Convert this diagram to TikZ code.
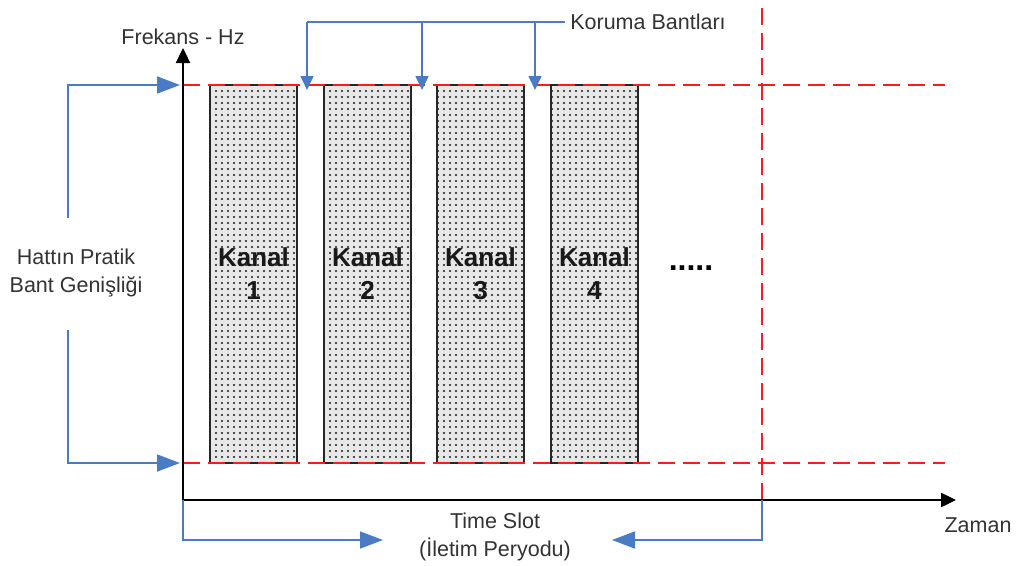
\documentclass[tikz,border=0pt]{standalone}
\usepackage{fontspec}
\setmainfont{Liberation Sans}
\usetikzlibrary{arrows.meta,patterns.meta}
\definecolor{bl}{HTML}{4A7CC6}
\definecolor{rd}{HTML}{FF1A1A}
\tikzset{
  lbl/.style={font=\fontsize{21.5}{28}\selectfont, text=black!80, align=center, inner sep=0pt},
  kanal/.style={draw=black!85, line width=1.8pt, minimum width=87pt, minimum height=378pt,
     inner sep=0pt, align=center, font=\bfseries\fontsize{26}{33}\selectfont, text=black!90,
     preaction={fill=black!9},
     preaction={pattern={Dots[distance=6pt,radius=1.15pt]}, pattern color=black!90}},
  axis/.style={line width=2.4pt, black, -{Triangle[length=15pt,width=14pt]}},
  bigarr/.style={bl, line width=1.6pt, -{Triangle[length=23pt,width=17pt]}},
  smallarr/.style={bl, line width=1.6pt, -{Triangle[length=14pt,width=13pt]}},
  bline/.style={bl, line width=1.6pt},
  rdash/.style={rd, line width=2pt, dash pattern=on 17pt off 8pt},
}
\begin{document}
\begin{tikzpicture}[x=1pt,y=-1pt]
\useasboundingbox (0,0) rectangle (1022,565);
% channel boxes
\node[kanal] (k1) at (253.5,274) {Kanal\\1};
\node[kanal] (k2) at (367.5,274) {Kanal\\2};
\node[kanal] (k3) at (480.5,274) {Kanal\\3};
\node[kanal] (k4) at (594.5,274) {Kanal\\4};
\node[font=\bfseries\fontsize{32}{32}\selectfont, inner sep=0pt] (dots) at (691,268) {.....};
% coordinates
\coordinate (O) at (183,500);
\coordinate (ytop) at (183,85);
\coordinate (ybot) at (183,463);
\coordinate (ltip) at (180,85);
\coordinate (lbtip) at (180,463);
\coordinate (xend) at (945,85);
\coordinate (xendb) at (945,463);
\coordinate (vtop) at (762,8);
\coordinate (V) at (762,500);
\coordinate (g1) at (307,90);
\coordinate (g2) at (422,90);
\coordinate (g3) at (535,90);
\coordinate (lt) at (68,218);
\coordinate (lb) at (68,330);
\coordinate (ts1) at (383,540);
\coordinate (ts2) at (612,540);
% red dashed lines
\draw[rdash] (ytop) -- (xend);
\draw[rdash] (ybot) -- (xendb);
\draw[rdash] (vtop) -- (V);
% axes
\draw[axis] (O) -- (183,48);
\draw[axis] (O) -- (956,500);
% labels
\node[lbl] (fr) at (183,37) {Frekans - Hz};
\node[lbl] (zm) at (978,525) {Zaman};
\node[lbl] (kor) at (648,22) {Koruma Bantları};
\node[lbl] (hat) at (76,273) {Hattın Pratik\\Bant Genişliği};
\node[lbl] (ts) at (495,537) {Time Slot\\(İletim Peryodu)};
% guard band arrows
\draw[bline] (kor.west) ++(-5,0) coordinate (kw) -- (kw -| g1);
\draw[smallarr] (kw -| g1) -- (g1);
\draw[smallarr] (kw -| g2) -- (g2);
\draw[smallarr] (kw -| g3) -- (g3);
% bandwidth bracket
\draw[bigarr] (lt) |- (ltip);
\draw[bigarr] (lb) |- (lbtip);
% time slot
\draw[bigarr] (O) |- (ts1);
\draw[bigarr] (V) |- (ts2);
\end{tikzpicture}
\end{document}
